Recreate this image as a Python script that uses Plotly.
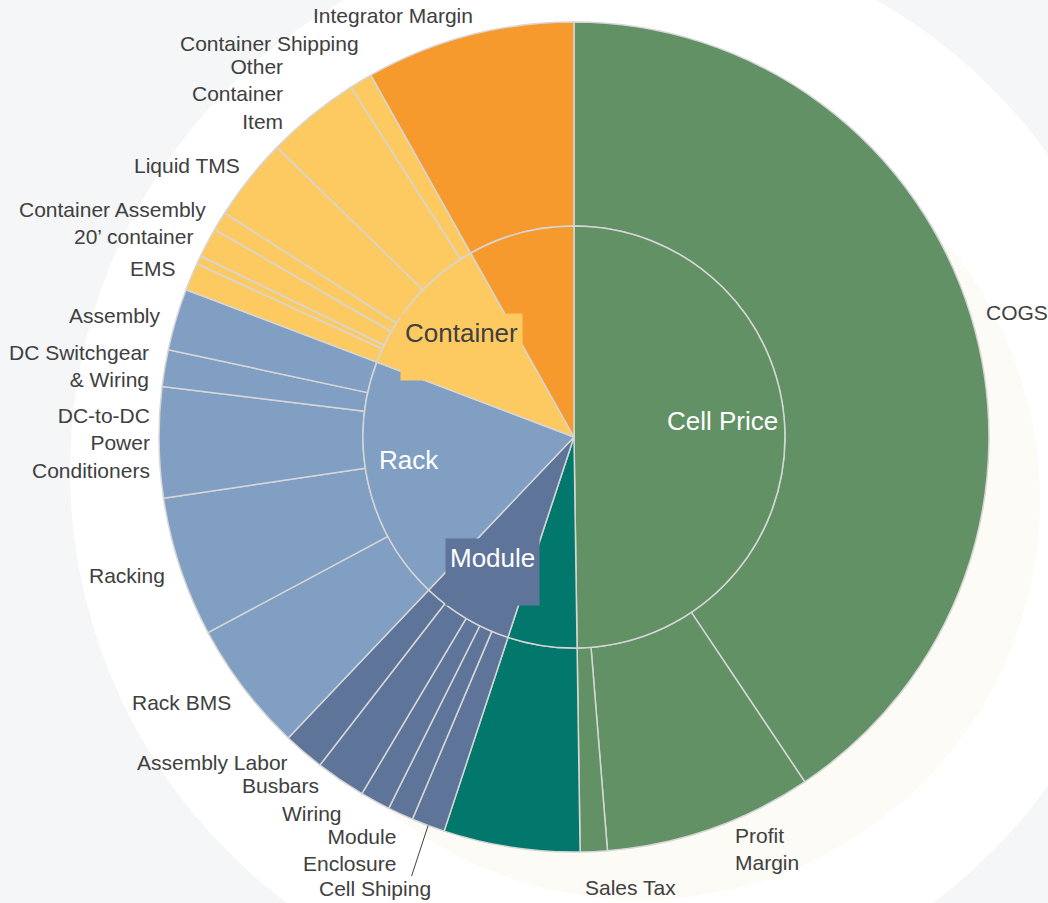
import math
import plotly.graph_objects as go

# ---------------- data ----------------
outer_labels = [
    "COGS", "Profit Margin", "Sales Tax",
    "Cell Shipping Cost",
    "Cell Shiping", "Module Enclosure", "Wiring", "Busbars", "Assembly Labor",
    "Rack BMS", "Racking", "DC-to-DC Power Conditioners", "DC Switchgear & Wiring", "Assembly",
    "EMS", "Container Misc", "20’ container", "Container Assembly", "Liquid TMS",
    "Other Container Item", "Container Shipping",
    "Integrator Margin",
]
outer_text = [
    "COGS", "Profit<br>Margin", "Sales Tax",
    "",
    "Cell Shiping", "Module<br>Enclosure", "Wiring", "Busbars", "Assembly Labor",
    "Rack BMS", "Racking", "DC-to-DC<br>Power<br>Conditioners", "DC Switchgear<br>& Wiring", "Assembly",
    "EMS", "", "20’ container", "Container Assembly", "Liquid TMS",
    "Other<br>Container<br>Item", "Container Shipping",
    "Integrator Margin",
]
outer_values = [
    40.6, 8.1, 1.05,
    5.3,
    1.3, 1.0, 1.17, 1.95, 1.6,
    5.1, 5.45, 4.3, 1.43, 2.4,
    1.08, 0.33, 1.15, 0.74, 3.22, 3.67, 0.89,
    8.14,
]
outer_parent = (
    ["Cell Price"] * 3 + ["Cell Shipping"] + ["Module"] * 5 + ["Rack"] * 5
    + ["Container"] * 7 + ["Integrator Margin"]
)

inner_labels = ["Cell Price", "Cell Shipping", "Module", "Rack", "Container", "Integrator Margin"]
inner_text = ["Cell Price", "", "Module", "Rack", "Container", ""]
inner_values = [sum(v for v, p in zip(outer_values, outer_parent) if p == lab) for lab in inner_labels]

# ---------------- style ----------------
FONT = "Liberation Sans, Arial, sans-serif"
group_colors = {
    "Cell Price": "#629166",
    "Cell Shipping": "#02786D",
    "Module": "#5E7599",
    "Rack": "#809FC3",
    "Container": "#FDCA62",
    "Integrator Margin": "#F79A2E",
}
inner_font_colors = ["#FFFFFF", "#FFFFFF", "#FFFFFF", "#FFFFFF", "#404040", "#FFFFFF"]
inner_box = [None, None, "#5E7599", None, "#FDCA62", None]
inner_nudge = {"Cell Price": (-10, -5), "Rack": (-11, -2), "Module": (0, -6), "Container": (7, 8)}
line_col = "#D6D6D6"
label_col = "#404040"

# per-label nudges of the outside labels (pixels: dx right, dy down)
label_nudge = {
    "Profit Margin": (18, 7), "Sales Tax": (-11, 22), "Module Enclosure": (3, 23),
    "Wiring": (-24, 0), "Busbars": (-12, -6), "Assembly Labor": (-5, 0),
    "Rack BMS": (0, 6), "Racking": (0, 4), "DC-to-DC Power Conditioners": (7, 0),
    "EMS": (0, -3), "Container Assembly": (0, -4), "Liquid TMS": (4, -5),
    "Other Container Item": (-18, -10), "Container Shipping": (7, -25),
    "Integrator Margin": (10, -6),
}
# labels moved away from their slice with a leader line: (line end offset, label offset)
leader_labels = {"Cell Shiping": ((-17, 52), (-53, 63))}

W, H = 1048, 903
outer_dom_x = [0.1517, 0.9437]
outer_dom_y = [0.0565, 0.9756]
inner_dom_x = [0.3464, 0.7490]
inner_dom_y = [0.2824, 0.7497]

fig = go.Figure()

fig.add_trace(go.Pie(
    labels=outer_labels, values=outer_values,
    textinfo="none",
    sort=False, direction="clockwise", rotation=0,
    hole=211 / 415,
    marker=dict(colors=[group_colors[p] for p in outer_parent],
                line=dict(color=line_col, width=1.5)),
    domain=dict(x=outer_dom_x, y=outer_dom_y),
    showlegend=False, hoverinfo="label+value",
))

fig.add_trace(go.Pie(
    labels=inner_labels, values=inner_values,
    textinfo="none",
    sort=False, direction="clockwise", rotation=0,
    marker=dict(colors=[group_colors[l] for l in inner_labels],
                line=dict(color=line_col, width=1.5)),
    domain=dict(x=inner_dom_x, y=inner_dom_y),
    showlegend=False, hoverinfo="label+value",
))

cx = (outer_dom_x[0] + outer_dom_x[1]) / 2 * W
cy = (1 - (outer_dom_y[0] + outer_dom_y[1]) / 2) * H
r_out = (outer_dom_x[1] - outer_dom_x[0]) * W / 2
r_in = (inner_dom_x[1] - inner_dom_x[0]) * W / 2

annotations = []

# outer labels placed from cumulative angles of the data
total = sum(outer_values)
cum = 0
for lab, txt, v in zip(outer_labels, outer_text, outer_values):
    mid = (cum + v / 2) / total * 2 * math.pi
    cum += v
    if not txt:
        continue
    s, c = math.sin(mid), math.cos(mid)
    if lab in leader_labels:
        (lx, ly), (tx, ty) = leader_labels[lab]
        px = cx + r_out * s
        py = cy - r_out * c
        annotations.append(dict(
            x=px / W, y=1 - py / H, xref="paper", yref="paper",
            text="", showarrow=True, ax=lx, ay=ly, axref="pixel", ayref="pixel",
            arrowhead=0, arrowwidth=1, arrowcolor="#404040", standoff=0, startstandoff=0,
        ))
        annotations.append(dict(
            x=(px + tx) / W, y=1 - (py + ty) / H, xref="paper", yref="paper",
            text=txt, showarrow=False, xanchor="center", yanchor="middle",
            font=dict(family=FONT, size=21, color=label_col),
        ))
        continue
    rr = r_out + 14
    dx, dy = label_nudge.get(lab, (0, 0))
    px = cx + rr * s + dx
    py = cy - rr * c + dy
    if s < -0.02:
        xa, al = "right", "right"
    elif s > 0.02:
        xa, al = "left", "left"
    else:
        xa, al = "center", "center"
    annotations.append(dict(
        x=px / W, y=1 - py / H, xref="paper", yref="paper",
        text=txt, showarrow=False, xanchor=xa, yanchor="middle", align=al,
        font=dict(family=FONT, size=21, color=label_col),
    ))

# inner labels
total_in = sum(inner_values)
cum = 0
for lab, txt, v, fc, bx in zip(inner_labels, inner_text, inner_values, inner_font_colors, inner_box):
    mid = (cum + v / 2) / total_in * 2 * math.pi
    cum += v
    if not txt:
        continue
    rr = 0.75 * r_in
    dx, dy = inner_nudge.get(lab, (0, 0))
    px = cx + rr * math.sin(mid) + dx
    py = cy - rr * math.cos(mid) - 10 + dy
    if bx:
        annotations.append(dict(
            x=px / W, y=1 - (py - 19) / H, xref="paper", yref="paper",
            text=txt, showarrow=False, xanchor="center", yanchor="top",
            height=58, valign="top", bgcolor=bx, borderpad=4,
            font=dict(family=FONT, size=26, color=fc),
        ))
    else:
        annotations.append(dict(
            x=px / W, y=1 - py / H, xref="paper", yref="paper",
            text=txt, showarrow=False, xanchor="center", yanchor="middle",
            font=dict(family=FONT, size=26, color=fc),
        ))

# decorative background
shapes = [
    dict(type="rect", xref="paper", yref="paper", x0=0, y0=0, x1=1, y1=1,
         fillcolor="#F5F6F7", line=dict(width=0), layer="below"),
    dict(type="circle", xref="paper", yref="paper",
         x0=(610 - 540) / W, x1=(610 + 540) / W, y0=1 - (470 + 540) / H, y1=1 - (470 - 540) / H,
         fillcolor="#FFFFFF", line=dict(width=0), layer="below"),
    dict(type="circle", xref="paper", yref="paper",
         x0=(640 - 400) / W, x1=(640 + 400) / W, y0=1 - (500 + 400) / H, y1=1 - (500 - 400) / H,
         fillcolor="#FDFBF5", line=dict(width=0), layer="below"),
]

fig.update_layout(
    width=W, height=H,
    margin=dict(l=0, r=0, t=0, b=0),
    paper_bgcolor="#FFFFFF", plot_bgcolor="#FFFFFF",
    annotations=annotations, shapes=shapes,
    font=dict(family=FONT),
)

fig.write_html("out.html")
